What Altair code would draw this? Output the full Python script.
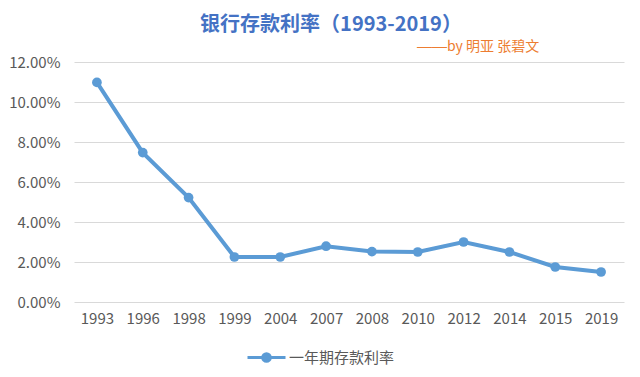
import altair as alt
import pandas as pd

years = ["1993", "1996", "1998", "1999", "2004", "2007", "2008", "2010", "2012", "2014", "2015", "2019"]
rates = [0.1098, 0.0747, 0.0522, 0.0225, 0.0225, 0.0279, 0.0252, 0.0250, 0.0300, 0.0250, 0.0175, 0.0150]
series_name = "一年期存款利率"
title_text = "银行存款利率（1993-2019）"
subtitle_dash = "——"
subtitle_text = "by 明亚 张碧文"
y_ticks = [0, 0.02, 0.04, 0.06, 0.08, 0.10, 0.12]

df = pd.DataFrame({"year": years, "rate": rates, "series": [series_name] * len(years)})

FONT = "Noto Sans CJK SC"
LINE_COLOR = "#5B9BD5"
GRAY = "#595959"
ORANGE = "#ED7D31"

x_enc = alt.X("year:N", sort=years, scale=alt.Scale(paddingInner=0, paddingOuter=0),
              axis=alt.Axis(title=None, labelAngle=0, ticks=False, domain=False, grid=False,
                            labelPadding=9, labelFontSize=15, labelColor=GRAY, labelFont=FONT))
y_enc = alt.Y("rate:Q", scale=alt.Scale(domain=[0, 0.12], nice=False),
              axis=alt.Axis(title=None, values=y_ticks, format=".2%", ticks=False, domain=False,
                            gridColor="#D9D9D9", gridWidth=1, labelPadding=14,
                            labelFontSize=15, labelColor=GRAY, labelFont=FONT))

base = alt.Chart(df)

line = base.mark_line(strokeWidth=4, color=LINE_COLOR).encode(x=x_enc, y=y_enc)

legend_path = "M-1,0 L1,0 M-0.2,0 A0.2,0.2 0 1,1 0.2,0 A0.2,0.2 0 1,1 -0.2,0 Z"

points = base.mark_point(filled=True, size=95, opacity=1).encode(
    x=x_enc, y=y_enc,
    color=alt.Color("series:N", scale=alt.Scale(range=[LINE_COLOR]),
                    legend=alt.Legend(title=None, orient="none", legendX=172, legendY=275,
                                      symbolType=legend_path, symbolSize=1444,
                                      symbolStrokeColor=LINE_COLOR, symbolFillColor=LINE_COLOR,
                                      symbolStrokeWidth=3, symbolOpacity=1,
                                      labelFontSize=15, labelColor=GRAY, labelFont=FONT,
                                      labelOffset=2, padding=0))
)

title = alt.Chart(pd.DataFrame({"t": [title_text]})).mark_text(
    font=FONT, fontSize=20, fontWeight="bold", color="#4472C4", align="center", baseline="alphabetic"
).encode(text="t:N", x=alt.value(257), y=alt.value(-31))

dash = alt.Chart(pd.DataFrame({"t": [subtitle_dash]})).mark_text(
    font="Liberation Sans", fontSize=15, color=ORANGE, align="right", baseline="alphabetic"
).encode(text="t:N", x=alt.value(373), y=alt.value(-11))

subtitle = alt.Chart(pd.DataFrame({"t": [subtitle_text]})).mark_text(
    font=FONT, fontSize=14, color=ORANGE, align="left", baseline="alphabetic"
).encode(text="t:N", x=alt.value(373), y=alt.value(-11))

chart = alt.layer(line, points, title, dash, subtitle).properties(
    width=550, height=240,
    autosize=alt.AutoSizeParams(type="none"),
    padding={"left": 74, "top": 62, "right": 16, "bottom": 75},
    background="white",
).configure_view(stroke=None)

chart.save("out.html", embed_options={"renderer": "svg", "actions": False})
